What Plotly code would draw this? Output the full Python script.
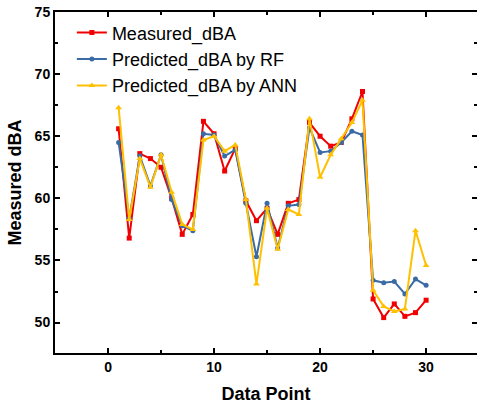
import plotly.graph_objects as go

data_point = list(range(1, 31))
measured = [65.6, 56.8, 63.6, 63.2, 62.5, 60.0, 57.1, 58.7, 66.2, 65.2,
            62.2, 64.0, 59.8, 58.2, 59.2, 57.1, 59.6, 59.9, 66.1, 65.0,
            64.2, 64.5, 66.4, 68.6, 51.9, 50.4, 51.5, 50.5, 50.8, 51.8]
pred_rf = [64.5, 58.4, 63.4, 61.0, 63.5, 59.9, 57.8, 57.4, 65.2, 65.1,
           63.4, 63.9, 59.6, 55.3, 59.6, 56.0, 59.4, 59.5, 65.7, 63.7,
           63.8, 64.5, 65.4, 65.1, 53.4, 53.2, 53.3, 52.3, 53.5, 53.0]
pred_ann = [67.3, 58.3, 63.2, 60.9, 63.5, 60.5, 57.9, 57.5, 64.7, 65.0,
            63.8, 64.3, 59.9, 53.1, 59.2, 55.9, 59.1, 58.7, 66.4, 61.7,
            63.5, 64.8, 66.1, 67.9, 52.6, 51.3, 50.9, 51.1, 57.4, 54.6]

names = ["Measured_dBA", "Predicted_dBA by RF", "Predicted_dBA by ANN"]
colors = ["#F00000", "#3B6BA5", "#FFC000"]
symbols = ["square", "circle", "triangle-up"]
msizes = [5, 5, 6]

fig = go.Figure()
for ys, nm, c, s, ms in zip([measured, pred_rf, pred_ann], names, colors, symbols, msizes):
    fig.add_trace(go.Scatter(x=data_point, y=ys, name=nm, mode="lines+markers",
                             line=dict(color=c, width=2),
                             marker=dict(color=c, symbol=s, size=ms)))

# invisible trace to carry right-side ticks
fig.add_trace(go.Scatter(x=[None], y=[None], yaxis="y2", showlegend=False, hoverinfo="skip"))

tickfont = dict(family="Liberation Sans", size=14, color="black", weight="bold")
titlefont = dict(family="Liberation Sans", size=18, color="black", weight="bold")

fig.update_layout(
    width=477, height=404,
    margin=dict(l=55, r=0, t=12, b=51),
    paper_bgcolor="white", plot_bgcolor="white",
    showlegend=True,
    legend=dict(x=0.04, y=0.993, xanchor="left", yanchor="top",
                bgcolor="rgba(0,0,0,0)",
                font=dict(family="Liberation Sans", size=18, color="black")),
    xaxis=dict(range=[-5, 34.8], tick0=0, dtick=10, ticks="inside", ticklen=5, tickwidth=2,
               tickcolor="black", showline=True, linewidth=2, linecolor="black", mirror="ticks",
               showgrid=False, zeroline=False, tickfont=tickfont,
               minor=dict(dtick=5, tick0=0, ticks="inside", ticklen=3, tickwidth=2, tickcolor="black", showgrid=False),
               title=dict(text="Data Point", font=titlefont, standoff=16)),
    yaxis=dict(range=[47.55, 75], tick0=50, dtick=5, ticks="inside", ticklen=5, tickwidth=2,
               tickcolor="black", showline=True, linewidth=2, linecolor="black",
               showgrid=False, zeroline=False, tickfont=tickfont,
               minor=dict(dtick=2.5, tick0=50, ticks="inside", ticklen=3, tickwidth=2, tickcolor="black", showgrid=False),
               title=dict(text="Measured dBA", font=titlefont, standoff=8)),
    yaxis2=dict(overlaying="y", side="right", matches="y", range=[47.55, 75], tick0=50, dtick=5,
                ticks="inside", ticklen=5, tickwidth=2, tickcolor="black", showline=False,
                showgrid=False, zeroline=False, showticklabels=False,
                minor=dict(dtick=2.5, tick0=50, ticks="inside", ticklen=3, tickwidth=2, tickcolor="black", showgrid=False)),
)

fig.write_html("out.html")
